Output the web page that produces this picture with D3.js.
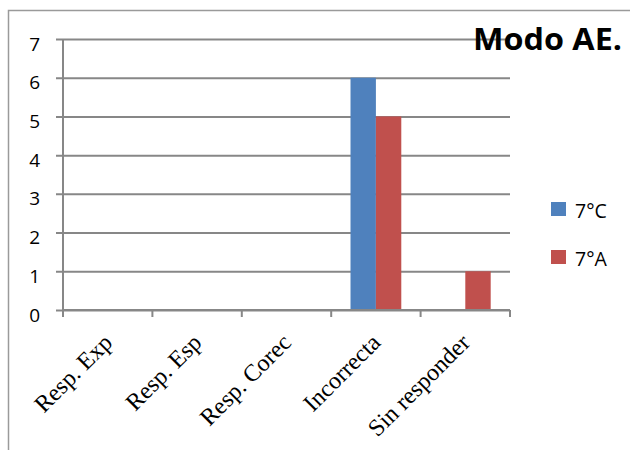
<!DOCTYPE html>
<html>
<head>
<meta charset="utf-8">
<script src="https://cdn.jsdelivr.net/npm/d3@7"></script>
<style>
  html, body { margin: 0; padding: 0; background: #fff; }
  svg { display: block; }
</style>
</head>
<body>
<svg id="chart" width="630" height="450"></svg>
<script>
// Response categories and counts per class group
const categories = ["Resp. Exp", "Resp. Esp", "Resp. Corec", "Incorrecta", "Sin responder"];
const seriesNames = ["7°C", "7°A"];
const values7C = [0, 0, 0, 6, 0];
const values7A = [0, 0, 0, 5, 1];
const yTicks = [0, 1, 2, 3, 4, 5, 6, 7];
const colors = ["#4F81BD", "#C0504D"];
const titleText = "Modo AE.";

const seriesValues = [values7C, values7A];
const rows = categories.map((c, i) => ({
  category: c,
  items: seriesNames.map((s, j) => ({ series: s, value: seriesValues[j][i] }))
}));

const svg = d3.select("#chart");
const plot = { left: 63, right: 510, top: 39, bottom: 310 };
const gridColor = "#878787";
const sansFont = "'Open Sans', 'Noto Sans', sans-serif";
const serifFont = "'Liberation Serif', 'DejaVu Serif', serif";

// outer chart frame (runs past the right and bottom edges)
svg.append("rect")
  .attr("x", 8.5).attr("y", 10.5)
  .attr("width", 700).attr("height", 500)
  .attr("fill", "none")
  .attr("stroke", "#9a9a9a")
  .attr("stroke-width", 1.5);

const x = d3.scaleBand()
  .domain(categories)
  .range([plot.left, plot.right])
  .paddingInner(0).paddingOuter(0);

const bw = x.bandwidth();
const x1 = d3.scaleBand()
  .domain(seriesNames)
  .range([bw * 0.216, bw * 0.784])
  .paddingInner(0).paddingOuter(0);

const y = d3.scaleLinear()
  .domain([0, 7])
  .range([plot.bottom, plot.top]);

// horizontal gridlines with the left tick stubs
const yAxis = d3.axisLeft(y)
  .tickValues(yTicks)
  .tickSize(-(plot.right - plot.left))
  .tickSizeOuter(0)
  .tickFormat("");
const gy = svg.append("g")
  .attr("transform", `translate(${plot.left},0)`)
  .call(yAxis);
gy.select(".domain").remove();
gy.selectAll(".tick line")
  .attr("x1", -7)
  .attr("stroke", gridColor)
  .attr("stroke-width", 2);

// y tick labels
svg.append("g").selectAll("text")
  .data(yTicks)
  .join("text")
  .attr("x", 40)
  .attr("y", d => y(d) + 11.5)
  .attr("text-anchor", "end")
  .attr("font-family", sansFont)
  .attr("font-size", 19)
  .attr("fill", "#000")
  .text(d => d);

// bars
const groups = svg.append("g").selectAll("g")
  .data(rows)
  .join("g")
  .attr("transform", d => `translate(${x(d.category)},0)`);
groups.selectAll("rect")
  .data(d => d.items.filter(it => it.value > 0))
  .join("rect")
  .attr("x", d => x1(d.series))
  .attr("width", x1.bandwidth())
  .attr("y", d => y(d.value))
  .attr("height", d => y(0) - y(d.value))
  .attr("fill", (d) => colors[seriesNames.indexOf(d.series)]);

// y axis line
svg.append("line")
  .attr("x1", plot.left).attr("x2", plot.left)
  .attr("y1", plot.top).attr("y2", plot.bottom)
  .attr("stroke", gridColor).attr("stroke-width", 2);

// x axis with ticks on category boundaries
const boundaries = categories.map(c => x(c)).concat([plot.right]);
svg.append("line")
  .attr("x1", plot.left).attr("x2", plot.right)
  .attr("y1", plot.bottom).attr("y2", plot.bottom)
  .attr("stroke", gridColor).attr("stroke-width", 2);
svg.append("g").selectAll("line")
  .data(boundaries)
  .join("line")
  .attr("x1", d => d).attr("x2", d => d)
  .attr("y1", plot.bottom).attr("y2", plot.bottom + 7)
  .attr("stroke", gridColor).attr("stroke-width", 2);

// rotated category labels
svg.append("g").selectAll("text")
  .data(categories)
  .join("text")
  .attr("transform", d => `translate(${x(d) + bw / 2 + 6},${plot.bottom + 34}) rotate(-45)`)
  .attr("text-anchor", "end")
  .attr("font-family", serifFont)
  .attr("font-size", 24)
  .attr("fill", "#000")
  .text(d => d);

// legend
const legend = svg.append("g").selectAll("g")
  .data(seriesNames)
  .join("g")
  .attr("transform", (d, i) => `translate(551,${202 + i * 48})`);
legend.append("rect")
  .attr("width", 15).attr("height", 14)
  .attr("fill", (d, i) => colors[i]);
legend.append("text")
  .attr("x", 24).attr("y", 16)
  .attr("font-family", sansFont)
  .attr("font-size", 19.5)
  .attr("fill", "#000")
  .text(d => d);

// title
svg.append("text")
  .attr("x", 473).attr("y", 50)
  .attr("font-family", sansFont)
  .attr("font-weight", "bold")
  .attr("font-size", 30)
  .attr("textLength", 149)
  .attr("lengthAdjust", "spacingAndGlyphs")
  .attr("fill", "#000")
  .text(titleText);
</script>
</body>
</html>
